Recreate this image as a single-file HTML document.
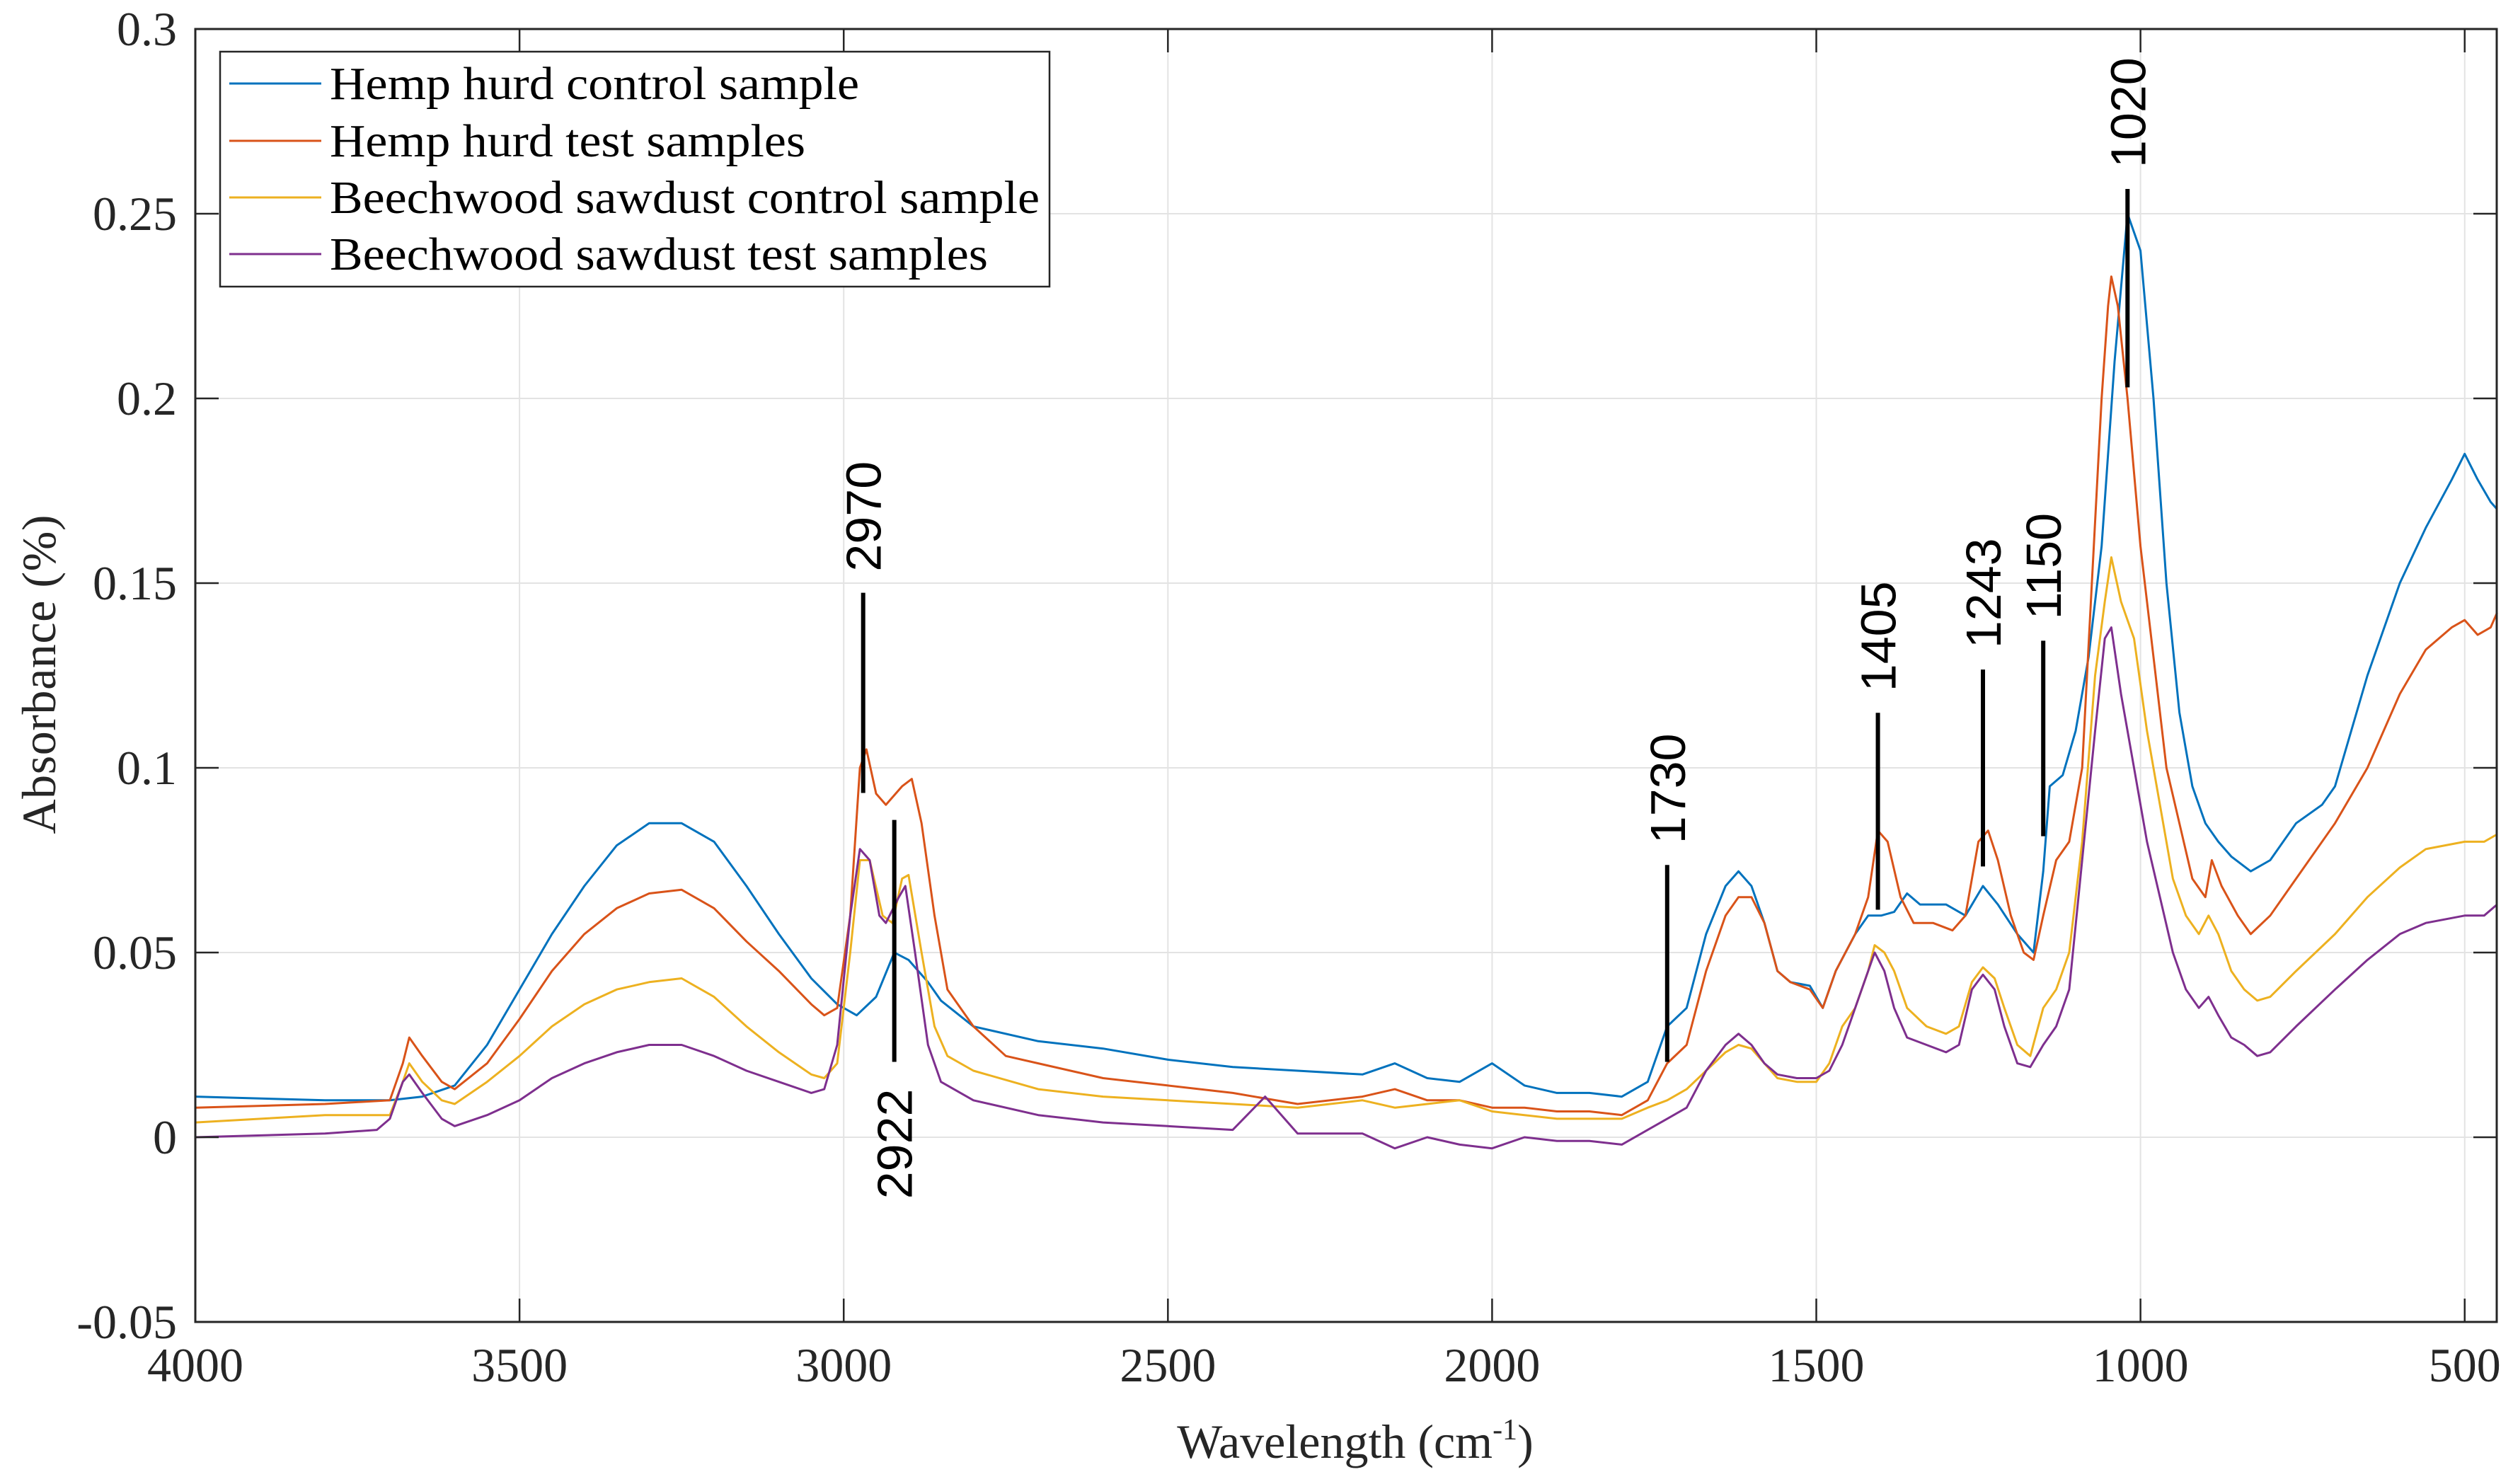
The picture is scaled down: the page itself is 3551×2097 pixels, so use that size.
<!DOCTYPE html>
<html><head><meta charset="utf-8"><style>
html,body{margin:0;padding:0;background:#fff;}
svg{display:block;}
</style></head><body>
<svg id="chart" width="3551" height="2097" viewBox="0 0 3551 2097" xmlns="http://www.w3.org/2000/svg">
<rect x="0" y="0" width="3551" height="2097" fill="#fff"/>
<g id="grid"></g>
<g id="series"></g>
<g id="annot"></g>
<g id="axes"></g>
<g id="legend"></g>
</svg>
<script>
const xTicks = [4000, 3500, 3000, 2500, 2000, 1500, 1000, 500];
const yTicks = [-0.05, 0, 0.05, 0.1, 0.15, 0.2, 0.25, 0.3];
const yTickLabels = ["-0.05", "0", "0.05", "0.1", "0.15", "0.2", "0.25", "0.3"];
const seriesNames = ["Hemp hurd control sample", "Hemp hurd test samples", "Beechwood sawdust control sample", "Beechwood sawdust test samples"];
const hempControl = [[4000,.011],[3800,.010],[3700,.010],[3650,.011],[3600,.014],[3550,.025],[3500,.040],[3450,.055],[3400,.068],[3350,.079],[3300,.085],[3250,.085],[3200,.080],[3150,.068],[3100,.055],[3050,.043],[3010,.036],[2980,.033],[2950,.038],[2922,.050],[2900,.048],[2870,.042],[2850,.037],[2800,.030],[2700,.026],[2600,.024],[2500,.021],[2400,.019],[2300,.018],[2200,.017],[2150,.020],[2100,.016],[2050,.015],[2000,.020],[1950,.014],[1900,.012],[1850,.012],[1800,.011],[1760,.015],[1730,.030],[1700,.035],[1670,.055],[1640,.068],[1620,.072],[1600,.068],[1580,.058],[1560,.045],[1540,.042],[1510,.041],[1490,.035],[1470,.045],[1440,.055],[1420,.060],[1400,.060],[1380,.061],[1360,.066],[1340,.063],[1300,.063],[1270,.060],[1243,.068],[1220,.063],[1190,.055],[1165,.050],[1150,.072],[1140,.095],[1120,.098],[1100,.110],[1080,.130],[1060,.160],[1040,.210],[1020,.250],[1000,.240],[980,.200],[960,.150],[940,.115],[920,.095],[900,.085],[880,.080],[860,.076],[830,.072],[800,.075],[760,.085],[720,.090],[700,.095],[650,.125],[600,.150],[560,.165],[520,.178],[500,.185],[480,.178],[460,.172],[450,.170]];
const hempTest = [[4000,.008],[3800,.009],[3700,.010],[3680,.020],[3670,.027],[3650,.022],[3620,.015],[3600,.013],[3550,.020],[3500,.032],[3450,.045],[3400,.055],[3350,.062],[3300,.066],[3250,.067],[3200,.062],[3150,.053],[3100,.045],[3050,.036],[3030,.033],[3010,.035],[2990,.060],[2975,.100],[2965,.105],[2950,.093],[2935,.090],[2910,.095],[2895,.097],[2880,.085],[2860,.060],[2840,.040],[2800,.030],[2750,.022],[2700,.020],[2600,.016],[2500,.014],[2400,.012],[2300,.009],[2200,.011],[2150,.013],[2100,.010],[2050,.010],[2000,.008],[1950,.008],[1900,.007],[1850,.007],[1800,.006],[1760,.010],[1730,.020],[1700,.025],[1670,.045],[1640,.060],[1620,.065],[1600,.065],[1580,.058],[1560,.045],[1540,.042],[1510,.040],[1490,.035],[1470,.045],[1440,.055],[1420,.065],[1405,.083],[1390,.080],[1370,.065],[1350,.058],[1320,.058],[1290,.056],[1270,.060],[1250,.080],[1235,.083],[1220,.075],[1200,.060],[1180,.050],[1165,.048],[1150,.060],[1130,.075],[1110,.080],[1090,.100],[1075,.150],[1060,.200],[1050,.225],[1045,.233],[1035,.225],[1020,.200],[1000,.160],[980,.130],[960,.100],[940,.085],[920,.070],[900,.065],[890,.075],[875,.068],[850,.060],[830,.055],[800,.060],[760,.070],[700,.085],[650,.100],[600,.120],[560,.132],[520,.138],[500,.140],[480,.136],[460,.138],[450,.142]];
const beechControl = [[4000,.004],[3800,.006],[3700,.006],[3680,.015],[3670,.020],[3650,.015],[3620,.010],[3600,.009],[3550,.015],[3500,.022],[3450,.030],[3400,.036],[3350,.040],[3300,.042],[3250,.043],[3200,.038],[3150,.030],[3100,.023],[3050,.017],[3030,.016],[3010,.020],[2990,.050],[2975,.075],[2960,.075],[2940,.060],[2925,.058],[2910,.070],[2900,.071],[2880,.050],[2860,.030],[2840,.022],[2800,.018],[2700,.013],[2600,.011],[2500,.010],[2400,.009],[2300,.008],[2200,.010],[2150,.008],[2100,.009],[2050,.010],[2000,.007],[1950,.006],[1900,.005],[1850,.005],[1800,.005],[1760,.008],[1730,.010],[1700,.013],[1670,.018],[1640,.023],[1620,.025],[1600,.024],[1580,.020],[1560,.016],[1530,.015],[1500,.015],[1480,.020],[1460,.030],[1440,.035],[1420,.045],[1410,.052],[1395,.050],[1380,.045],[1360,.035],[1330,.030],[1300,.028],[1280,.030],[1260,.042],[1243,.046],[1225,.043],[1210,.035],[1190,.025],[1170,.022],[1150,.035],[1130,.040],[1110,.050],[1090,.080],[1070,.125],[1055,.145],[1045,.157],[1030,.145],[1010,.135],[990,.110],[970,.090],[950,.070],[930,.060],[910,.055],[895,.060],[880,.055],[860,.045],[840,.040],[820,.037],[800,.038],[760,.045],[700,.055],[650,.065],[600,.073],[560,.078],[500,.080],[470,.080],[450,.082]];
const beechTest = [[4000,.000],[3800,.001],[3720,.002],[3700,.005],[3680,.015],[3670,.017],[3650,.012],[3620,.005],[3600,.003],[3550,.006],[3500,.010],[3450,.016],[3400,.020],[3350,.023],[3300,.025],[3250,.025],[3200,.022],[3150,.018],[3100,.015],[3050,.012],[3030,.013],[3010,.025],[2990,.060],[2975,.078],[2960,.075],[2945,.060],[2935,.058],[2915,.065],[2905,.068],[2890,.050],[2870,.025],[2850,.015],[2800,.010],[2700,.006],[2600,.004],[2500,.003],[2400,.002],[2350,.011],[2300,.001],[2200,.001],[2150,-.003],[2100,.000],[2050,-.002],[2000,-.003],[1950,.000],[1900,-.001],[1850,-.001],[1800,-.002],[1760,.002],[1730,.005],[1700,.008],[1670,.018],[1640,.025],[1620,.028],[1600,.025],[1580,.020],[1560,.017],[1530,.016],[1500,.016],[1480,.018],[1460,.025],[1440,.035],[1420,.045],[1410,.050],[1395,.045],[1380,.035],[1360,.027],[1330,.025],[1300,.023],[1280,.025],[1260,.040],[1243,.044],[1225,.040],[1210,.030],[1190,.020],[1170,.019],[1150,.025],[1130,.030],[1110,.040],[1090,.075],[1070,.110],[1055,.135],[1045,.138],[1030,.120],[1010,.100],[990,.080],[970,.065],[950,.050],[930,.040],[910,.035],[895,.038],[880,.033],[860,.027],[840,.025],[820,.022],[800,.023],[760,.030],[700,.040],[650,.048],[600,.055],[560,.058],[500,.060],[470,.060],[450,.063]];
const peakLabels = ["2970", "2922", "1730", "1405", "1243", "1150", "1020"];
const peakWn = [2970, 2922, 1730, 1405, 1243, 1150, 1020];
const peakLineTop = [0.1474, 0.0859, 0.0737, 0.1149, 0.1266, 0.1344, 0.2567];
const peakLineBottom = [0.0932, 0.0204, 0.0204, 0.0616, 0.0733, 0.0815, 0.2030];
const peakTextBelow = [false, true, false, false, false, false, false];

const NS = "http://www.w3.org/2000/svg";
const L = 276, R = 3528, T = 41, B = 1868;
const X0 = 4000, X1 = 450.6;
const Y0 = -0.05, Y1 = 0.3;
function xs(w){ return L + (X0 - w) / (X0 - X1) * (R - L); }
function ys(v){ return B - (v - Y0) / (Y1 - Y0) * (B - T); }
function mk(tag, attrs, parent){
  const e = document.createElementNS(NS, tag);
  for (const k in attrs) e.setAttribute(k, attrs[k]);
  parent.appendChild(e);
  return e;
}
const grid = document.getElementById('grid');
const axes = document.getElementById('axes');
const serif = '"Liberation Serif", serif';

xTicks.forEach((t, i) => {
  const x = xs(t);
  const g = mk('line', {x1:x, x2:x, y1:T, y2:B, stroke:'#e3e3e3', 'stroke-width':2}, grid);
  
  
  const tk1 = mk('line', {x1:x, x2:x, y1:B, y2:B-33, stroke:'#262626', 'stroke-width':2.5}, axes);
  
  
  const tk2 = mk('line', {x1:x, x2:x, y1:T, y2:T+33, stroke:'#262626', 'stroke-width':2.5}, axes);
  
  
  const lb = mk('text', {x:x, y:1952, 'text-anchor':'middle', 'font-family':serif, 'font-size':68, fill:'#262626'}, axes);
  lb.textContent = String(t);
  
  
});
yTicks.forEach((t, i) => {
  const y = ys(t);
  const g = mk('line', {x1:L, x2:R, y1:y, y2:y, stroke:'#e3e3e3', 'stroke-width':2}, grid);
  
  
  const tk1 = mk('line', {x1:L, x2:L+33, y1:y, y2:y, stroke:'#262626', 'stroke-width':2.5}, axes);
  
  
  const tk2 = mk('line', {x1:R, x2:R-33, y1:y, y2:y, stroke:'#262626', 'stroke-width':2.5}, axes);
  
  
  const lb = mk('text', {x:250, y:y+23, 'text-anchor':'end', 'font-family':serif, 'font-size':68, fill:'#262626'}, axes);
  lb.textContent = yTickLabels[i];
  
  
});
const frame = mk('rect', {x:L, y:T, width:R-L, height:B-T, fill:'none', stroke:'#262626', 'stroke-width':3}, axes);



const yt = mk('text', {x:0, y:0, transform:'translate(78,953) rotate(-90)', 'text-anchor':'middle', 'font-family':serif, 'font-size':68, fill:'#262626', textLength:451}, axes);
yt.textContent = 'Absorbance (%)';


const xt = mk('text', {x:1915, y:2060, 'text-anchor':'middle', 'font-family':serif, 'font-size':68, fill:'#262626'}, axes);


xt.innerHTML = 'Wavelength  (cm<tspan dy="-26" font-size="42">-1</tspan><tspan dy="26">)</tspan>';

const colors = ['#0072BD', '#D95319', '#EDB120', '#7E2F8E'];
const allSeries = [hempControl, hempTest, beechControl, beechTest];
const seriesG = document.getElementById('series');
const sNames = ['series-hemp-control', 'series-hemp-test', 'series-beech-control', 'series-beech-test'];
allSeries.forEach((s, i) => {
  const d = s.map((p, j) => (j ? 'L' : 'M') + xs(p[0]).toFixed(1) + ' ' + ys(p[1]).toFixed(1)).join(' ');
  const p = mk('path', {d:d, fill:'none', stroke:colors[i], 'stroke-width':3, 'stroke-linejoin':'round'}, seriesG);
  
  
});

const annot = document.getElementById('annot');
const sans = '"Liberation Sans", sans-serif';
peakLabels.forEach((lbl, i) => {
  const x = xs(peakWn[i]);
  const y1 = ys(peakLineTop[i]), y2 = ys(peakLineBottom[i]);
  const ln = mk('line', {x1:x, x2:x, y1:y1, y2:y2, stroke:'#000', 'stroke-width':6}, annot);
  
  
  let tr, anchor;
  if (peakTextBelow[i]) { tr = 'translate(' + (x + 25) + ',' + (y2 + 38) + ') rotate(-90)'; anchor = 'end'; }
  else { tr = 'translate(' + (x + 25) + ',' + (y1 - 30) + ') rotate(-90)'; anchor = 'start'; }
  const t = mk('text', {x:0, y:0, transform:tr, 'text-anchor':anchor, 'font-family':sans, 'font-size':70, fill:'#000'}, annot);
  t.textContent = lbl;
  
  
});

const legend = document.getElementById('legend');
const lbox = mk('rect', {x:311, y:73, width:1172, height:332, fill:'#fff', stroke:'#262626', 'stroke-width':2.5}, legend);


const ly = [118, 199, 279, 359];
const lw = [748, 672, 1003, 930];
seriesNames.forEach((n, i) => {
  const l = mk('line', {x1:324, x2:454, y1:ly[i], y2:ly[i], stroke:colors[i], 'stroke-width':3}, legend);
  
  
  const t = mk('text', {x:466, y:ly[i] + 22, 'font-family':serif, 'font-size':66, fill:'#000', textLength:lw[i], lengthAdjust:'spacingAndGlyphs'}, legend);
  t.textContent = n;
  
  
});
</script>
</body></html>
